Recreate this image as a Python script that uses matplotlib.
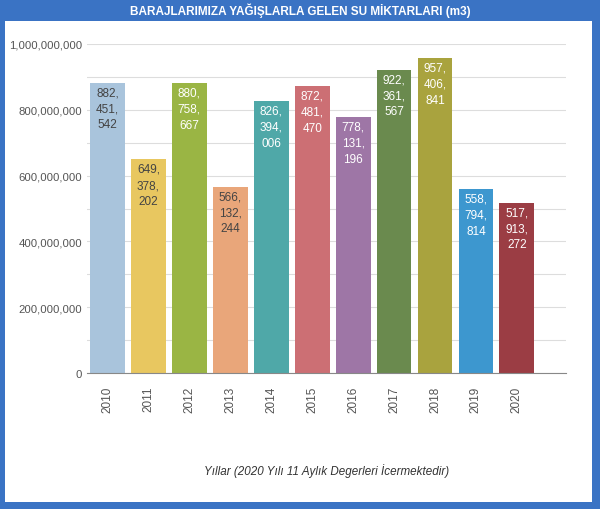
import matplotlib.pyplot as plt
import matplotlib.patches as patches
from matplotlib.ticker import FuncFormatter, MultipleLocator

plt.rcParams['font.family'] = ['Liberation Sans', 'DejaVu Sans']

years = ["2010", "2011", "2012", "2013", "2014", "2015", "2016", "2017", "2018", "2019", "2020"]
values = [882451542, 649378202, 880758667, 566132244, 826394006, 872481470,
          778131196, 922361567, 957406841, 558794814, 517913272]
colors = ["#a9c4dc", "#e8c760", "#9ab544", "#e9a67a", "#4fa8a8", "#cc6f74",
          "#9e76a6", "#6a8a4e", "#a9a33e", "#3d97cf", "#9b3d44"]
text_colors = ["#444444", "#444444", "white", "#444444", "white", "white",
               "white", "white", "white", "white", "white"]

fig = plt.figure(figsize=(6, 5.1), dpi=100)
fig.patch.set_facecolor("#3a73c4")
# white panel
panel = patches.Rectangle((5/600, 7/510), 587/600, (510-7-22)/510,
                          transform=fig.transFigure, facecolor="white",
                          edgecolor="none", zorder=-5)
fig.add_artist(panel)
fig.text(0.5, 1-11/510, "BARAJLARIMIZA YAĞIŞLARLA GELEN SU MİKTARLARI (m3)",
         color="white", fontsize=8.5, fontweight="bold", ha="center", va="center")

ax = fig.add_axes([87/600, 1-374/510, (566-87)/600, (374-45)/510])
ax.set_zorder(2)
ax.set_facecolor("white")
x = range(len(years))
ax.bar(x, values, width=0.85, color=colors, zorder=2)

for i, v in enumerate(values):
    s = "{:,}".format(v).replace(",", ",\n")
    ax.text(i, v - 11e6, s, ha="center", va="top", fontsize=8.5,
            color=text_colors[i], linespacing=1.45, zorder=3)

ax.set_xlim(-0.5, 11.2)
ax.set_ylim(0, 1e9)
ax.yaxis.set_major_locator(MultipleLocator(2e8))
ax.yaxis.set_minor_locator(MultipleLocator(1e8))
ax.yaxis.set_major_formatter(FuncFormatter(lambda v, p: "{:,}".format(int(v))))
ax.grid(axis="y", which="both", color="#dddddd", linewidth=0.8, zorder=0)
ax.set_axisbelow(True)
ax.set_xticks(list(x))
ax.set_xticklabels(years, rotation=90)
ax.tick_params(axis="both", length=0, colors="#555555", labelsize=8.5)
ax.tick_params(axis="y", labelsize=8.2)
ax.tick_params(axis="x", pad=9)
ax.tick_params(axis="y", which="minor", length=0)
for sp in ["top", "right", "left"]:
    ax.spines[sp].set_visible(False)
ax.spines["bottom"].set_color("#888888")
ax.set_xlabel("Yıllar (2020 Yılı 11 Aylık Degerleri İcermektedir)", fontsize=8.4,
              style="italic", color="#333333", labelpad=37)

fig.savefig("out.png", dpi=100, facecolor=fig.get_facecolor())
